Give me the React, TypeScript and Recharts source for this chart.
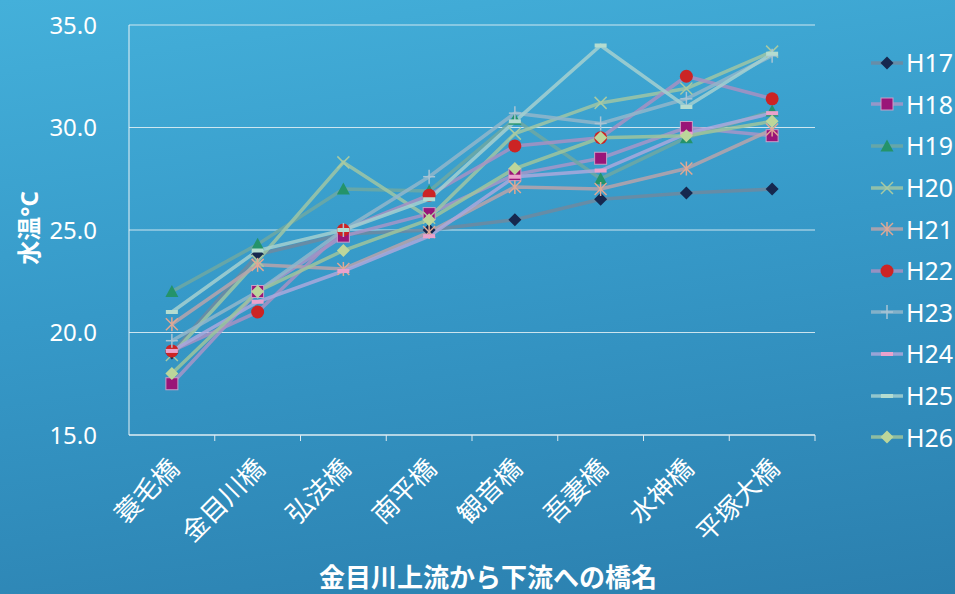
import React from 'react';
import { LineChart, Line, XAxis, YAxis, CartesianGrid } from 'recharts';

// bridges along 金目川, upstream -> downstream
const bridges = ['蓑毛橋', '金目川橋', '弘法橋', '南平橋', '観音橋', '吾妻橋', '水神橋', '平塚大橋'];

// water temperature (℃) per year
const h17 = [19.0, 23.8, 24.8, 25.0, 25.5, 26.5, 26.8, 27.0];
const h18 = [17.5, 22.0, 24.7, 25.8, 27.7, 28.5, 30.0, 29.6];
const h19 = [22.0, 24.3, 27.0, 26.9, 30.4, 27.5, 29.5, 30.8];
const h20 = [18.9, 23.5, 28.3, 25.6, 29.7, 31.2, 31.9, 33.7];
const h21 = [20.4, 23.3, 23.1, 24.9, 27.1, 27.0, 28.0, 29.9];
const h22 = [19.1, 21.0, 25.0, 26.7, 29.1, 29.5, 32.5, 31.4];
const h23 = [19.6, 22.0, 25.0, 27.6, 30.7, 30.2, 31.4, 33.5];
const h24 = [19.1, 21.5, 23.0, 24.7, 27.6, 27.9, 29.7, 30.7];
const h25 = [21.0, 24.0, 25.0, 26.5, 30.3, 34.0, 31.0, 33.6];
const h26 = [18.0, 22.0, 24.0, 25.5, 28.0, 29.5, 29.6, 30.3];

const yTicks = [15, 20, 25, 30, 35];

type Kind = 'diamond' | 'square' | 'triangle' | 'x' | 'star' | 'circle' | 'plus' | 'dash';

const series: { name: string; values: number[]; line: string; kind: Kind; mark: string }[] = [
  { name: 'H17', values: h17, line: '#6f8aa0', kind: 'diamond', mark: '#16284f' },
  { name: 'H18', values: h18, line: '#a795c8', kind: 'square', mark: '#9a1578' },
  { name: 'H19', values: h19, line: '#6fa8a2', kind: 'triangle', mark: '#24936a' },
  { name: 'H20', values: h20, line: '#9fc6a4', kind: 'x', mark: '#a8caa2' },
  { name: 'H21', values: h21, line: '#b9a3aa', kind: 'star', mark: '#e0a894' },
  { name: 'H22', values: h22, line: '#a890c2', kind: 'circle', mark: '#cc2424' },
  { name: 'H23', values: h23, line: '#92b6ca', kind: 'plus', mark: '#a8c4d4' },
  { name: 'H24', values: h24, line: '#aaa8dc', kind: 'dash', mark: '#eaa2cc' },
  { name: 'H25', values: h25, line: '#a4d0d0', kind: 'dash', mark: '#b4dcd0' },
  { name: 'H26', values: h26, line: '#9fc49c', kind: 'diamond', mark: '#bcd69a' },
];

const data = bridges.map((b, i) => {
  const row: Record<string, string | number> = { bridge: b };
  series.forEach((s) => (row[s.name] = s.values[i]));
  return row;
});

const W = 955;
const H = 594;
const PLOT_LEFT = 129;
const PLOT_RIGHT = 815;
const HALF_BAND = (PLOT_RIGHT - PLOT_LEFT) / bridges.length / 2;
const FONT = '"Noto Sans", "Noto Sans CJK JP", sans-serif';

function Marker({ kind, color, cx, cy }: { kind: Kind; color: string; cx: number; cy: number }) {
  switch (kind) {
    case 'diamond':
      return <polygon points={`${cx},${cy - 6.5} ${cx + 6.5},${cy} ${cx},${cy + 6.5} ${cx - 6.5},${cy}`} fill={color} />;
    case 'square':
      return <rect x={cx - 6} y={cy - 6} width={12} height={12} fill={color} stroke="#c8a0c8" strokeWidth={1} />;
    case 'triangle':
      return <polygon points={`${cx},${cy - 6.5} ${cx + 6.5},${cy + 5.5} ${cx - 6.5},${cy + 5.5}`} fill={color} />;
    case 'x':
      return (
        <g stroke={color} strokeWidth={1.5}>
          <line x1={cx - 6} y1={cy - 6} x2={cx + 6} y2={cy + 6} />
          <line x1={cx - 6} y1={cy + 6} x2={cx + 6} y2={cy - 6} />
        </g>
      );
    case 'star':
      return (
        <g stroke={color} strokeWidth={1.5}>
          <line x1={cx - 6} y1={cy - 6} x2={cx + 6} y2={cy + 6} />
          <line x1={cx - 6} y1={cy + 6} x2={cx + 6} y2={cy - 6} />
          <line x1={cx} y1={cy - 7} x2={cx} y2={cy + 7} />
        </g>
      );
    case 'circle':
      return <circle cx={cx} cy={cy} r={6.5} fill={color} />;
    case 'plus':
      return (
        <g stroke={color} strokeWidth={1.5}>
          <line x1={cx - 6} y1={cy} x2={cx + 6} y2={cy} />
          <line x1={cx} y1={cy - 7} x2={cx} y2={cy + 7} />
        </g>
      );
    default:
      return <rect x={cx - 6} y={cy - 2} width={12} height={4} fill={color} />;
  }
}

function BridgeTick(props: any) {
  const { x, y, payload } = props;
  const tx = x + 9;
  const ty = y + 27;
  return (
    <g>
      <line x1={x + HALF_BAND} y1={y - 8} x2={x + HALF_BAND} y2={y - 2} stroke="#dfeaf0" strokeWidth={1} />
      <text
        x={tx}
        y={ty}
        transform={`rotate(-45 ${tx} ${ty})`}
        textAnchor="end"
        fill="#ffffff"
        fontSize={26}
        fontFamily={FONT}
      >
        {payload.value}
      </text>
    </g>
  );
}

export default function App() {
  return (
    <div
      style={{
        position: 'absolute',
        left: 0,
        top: 0,
        width: W,
        height: H,
        overflow: 'hidden',
        background: 'linear-gradient(172deg, #44b0da 0%, #3699c8 45%, #2b7fae 100%)',
        fontFamily: FONT,
      }}
    >
      <LineChart width={W} height={H} data={data} margin={{ top: 25, right: W - PLOT_RIGHT, left: 10, bottom: 0 }}>
        <CartesianGrid vertical={false} stroke="#e8f2f6" strokeOpacity={0.85} />
        <XAxis
          dataKey="bridge"
          height={159}
          padding={{ left: HALF_BAND, right: HALF_BAND }}
          axisLine={{ stroke: '#e8f2f6' }}
          tickLine={false}
          interval={0}
          tick={<BridgeTick />}
        />
        <YAxis
          width={PLOT_LEFT - 10}
          domain={[15, 35]}
          ticks={yTicks}
          tickFormatter={(v: number) => v.toFixed(1)}
          axisLine={{ stroke: '#e8f2f6' }}
          tickLine={false}
          tickMargin={26}
          tick={{ fill: '#ffffff', fontSize: 24, fontFamily: FONT }}
        />
        {series.map((s) => (
          <Line
            key={s.name}
            dataKey={s.name}
            type="linear"
            stroke={s.line}
            strokeWidth={3.5}
            strokeOpacity={0.85}
            isAnimationActive={false}
            dot={(p: any) => <Marker key={`${s.name}-${p.index}`} kind={s.kind} color={s.mark} cx={p.cx} cy={p.cy} />}
            activeDot={false}
          />
        ))}
      </LineChart>

      {/* y axis title */}
      <div
        style={{
          position: 'absolute',
          left: 27,
          top: 228,
          transform: 'translate(-50%, -50%) rotate(-90deg)',
          color: '#fff',
          fontWeight: 'bold',
          fontSize: 24,
          whiteSpace: 'nowrap',
        }}
      >
        水温°C
      </div>

      {/* x axis title */}
      <div
        style={{
          position: 'absolute',
          left: 488,
          top: 577,
          transform: 'translate(-50%, -50%)',
          color: '#fff',
          fontWeight: 'bold',
          fontSize: 26,
          lineHeight: 1.1,
          whiteSpace: 'nowrap',
        }}
      >
        金目川上流から下流への橋名
      </div>

      {/* legend */}
      <div style={{ position: 'absolute', left: 868, top: 42 }}>
        {series.map((s) => (
          <div key={s.name} style={{ display: 'flex', alignItems: 'center', height: 41.6 }}>
            <svg width={38} height={20}>
              <line x1={3} y1={10} x2={35} y2={10} stroke={s.line} strokeWidth={3.5} strokeOpacity={0.85} />
              <Marker kind={s.kind} color={s.mark} cx={19} cy={10} />
            </svg>
            <span style={{ color: '#fff', fontSize: 25, lineHeight: 1 }}>{s.name}</span>
          </div>
        ))}
      </div>
    </div>
  );
}
